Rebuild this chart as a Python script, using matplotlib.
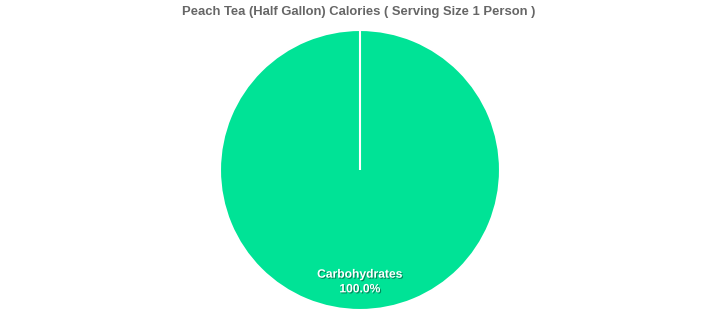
import numpy as np
import matplotlib.pyplot as plt
import matplotlib.patheffects as pe

plt.rcParams['font.family'] = ['Liberation Sans', 'DejaVu Sans']

# datos
categorias = ['Carbohydrates']
valores = [100.0]
colores = ['#00E396']
titulo = 'Peach Tea (Half Gallon) Calories ( Serving Size 1 Person )'

fig = plt.figure(figsize=(7.18, 3.23), dpi=100)
ax = fig.add_axes([220 / 718, 13 / 323, 280 / 718, 280 / 323])

cunas, _ = ax.pie(valores, colors=colores, startangle=90, counterclock=False,
                  wedgeprops=dict(edgecolor='white', linewidth=1.5))
ax.set_xlim(-1, 1)
ax.set_ylim(-1, 1)
ax.set_aspect('auto')

# borde radial de la cuña (en un círculo completo matplotlib no lo dibuja)
for cuna in cunas:
    t = np.deg2rad(cuna.theta1)
    ax.plot([0, np.cos(t)], [0, np.sin(t)], color='white', lw=1.5, solid_capstyle='butt')

total = sum(valores)
for cuna, cat, v in zip(cunas, categorias, valores):
    ang = np.deg2rad((cuna.theta1 + cuna.theta2) / 2)
    x, y = 0.8 * np.cos(ang), 0.8 * np.sin(ang)
    ax.text(x, y, f'{cat}\n{v / total * 100:.1f}%', ha='center', va='center',
            color='white', fontsize=8.7, fontweight='bold', linespacing=1.3,
            path_effects=[pe.withSimplePatchShadow(offset=(0.8, -0.8), shadow_rgbFace='#004d33', alpha=0.6)])

fig.text(0.5, 1 - 12 / 323, titulo, ha='center', va='center',
         fontsize=9.4, fontweight='bold', color='#666666')

plt.savefig('out.png', dpi=100)
